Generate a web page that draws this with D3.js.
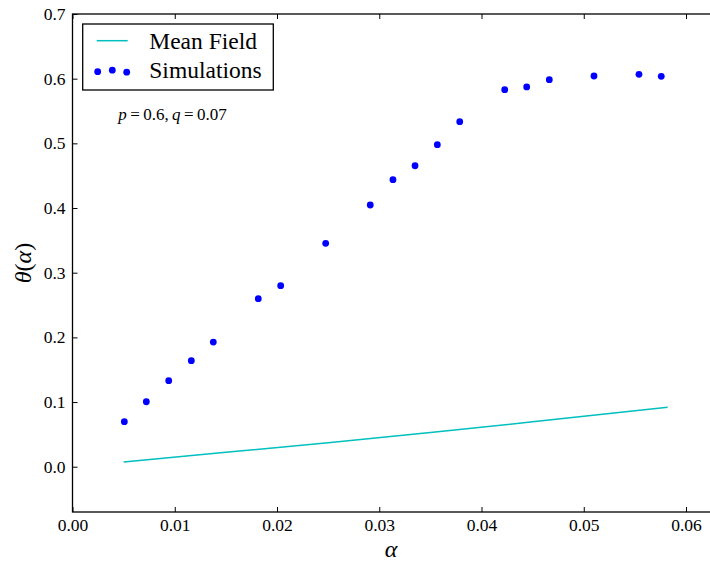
<!DOCTYPE html>
<html>
<head>
<meta charset="utf-8">
<script src="https://cdn.jsdelivr.net/npm/d3@7"></script>
<style>
  body { margin: 0; background: #fff; }
  svg { display: block; }
  svg text { font-family: "Liberation Serif", "Times New Roman", "DejaVu Serif", serif !important; fill: #000; }
</style>
</head>
<body>
<svg id="chart"></svg>
<script>
// data
var simAlpha = [0.00507, 0.00722, 0.00941, 0.01162, 0.01377, 0.01817, 0.02036,
                0.02476, 0.02912, 0.03134, 0.03350, 0.03568, 0.03787, 0.04227,
                0.04442, 0.04663, 0.05100, 0.05540, 0.05758];
var simTheta = [0.0696, 0.1005, 0.1330, 0.1639, 0.1928, 0.2598, 0.2799,
                0.3454, 0.4047, 0.4438, 0.4654, 0.4979, 0.5335, 0.5830,
                0.5872, 0.5984, 0.6041, 0.6068, 0.6037];
var mfAlpha = [0.0050, 0.0150, 0.0250, 0.0350, 0.0450, 0.0582];
var mfTheta = [0.0073, 0.0222, 0.0372, 0.0528, 0.0695, 0.0918];
var xTicks = [0, 0.01, 0.02, 0.03, 0.04, 0.05, 0.06];
var yTicks = [0.0, 0.1, 0.2, 0.3, 0.4, 0.5, 0.6, 0.7];

var width = 710, height = 562;
var mLeft = 72.5, mTop = 14, mRight = 721.8, mBottom = 512;
var serif = '"Liberation Serif", "DejaVu Serif", serif';

var svg = d3.select('#chart')
    .attr('width', width)
    .attr('height', height)
    .attr('font-family', serif);

// the figure is cropped on the right, so the axes run past the picture edge
var x = d3.scaleLinear().domain([0, 0.0635]).range([mLeft, mRight]);
var y = d3.scaleLinear().domain([-0.07, 0.7]).range([mBottom, mTop]);

var tickLen = 5;

// ticks on all four sides, pointing inward (classic matplotlib)
svg.append('g')
    .attr('transform', 'translate(0,' + mBottom + ')')
    .call(d3.axisBottom(x).tickValues(xTicks).tickSize(-tickLen).tickPadding(7)
      .tickFormat(d3.format('.2f')))
    .attr('font-family', serif)
    .call(function (g) { g.select('.domain').remove(); })
    .call(function (g) { g.selectAll('text').style('font-size', '17.5px'); });

svg.append('g')
    .attr('transform', 'translate(0,' + mTop + ')')
    .call(d3.axisTop(x).tickValues(xTicks).tickSize(-tickLen).tickFormat(''))
    .call(function (g) { g.select('.domain').remove(); });

svg.append('g')
    .attr('transform', 'translate(' + mLeft + ',0)')
    .call(d3.axisLeft(y).tickValues(yTicks).tickSize(-tickLen).tickPadding(7)
      .tickFormat(d3.format('.1f')))
    .attr('font-family', serif)
    .call(function (g) { g.select('.domain').remove(); })
    .call(function (g) { g.selectAll('text').style('font-size', '17.5px'); });

svg.append('g')
    .attr('transform', 'translate(' + mRight + ',0)')
    .call(d3.axisRight(y).tickValues(yTicks).tickSize(-tickLen).tickFormat(''))
    .call(function (g) { g.select('.domain').remove(); });

svg.selectAll('.tick line').attr('stroke', '#000').attr('stroke-width', 1);

// frame
svg.append('rect')
    .attr('x', mLeft).attr('y', mTop)
    .attr('width', mRight - mLeft).attr('height', mBottom - mTop)
    .attr('fill', 'none').attr('stroke', '#000').attr('stroke-width', 1.3);

// mean field line
var line = d3.line()
    .x(function (d, i) { return x(mfAlpha[i]); })
    .y(function (d) { return y(d); });

svg.append('path')
    .datum(mfTheta)
    .attr('d', line)
    .attr('fill', 'none')
    .attr('stroke', '#00bfbf')
    .attr('stroke-width', 1.5);

// simulation points
svg.append('g').selectAll('circle')
    .data(simTheta)
    .enter().append('circle')
    .attr('cx', function (d, i) { return x(simAlpha[i]); })
    .attr('cy', function (d) { return y(d); })
    .attr('r', 3.4)
    .attr('fill', '#0000ff');

// legend
var lg = svg.append('g');
lg.append('rect')
    .attr('x', 82.7).attr('y', 24)
    .attr('width', 190.6).attr('height', 66)
    .attr('fill', '#fff').attr('stroke', '#000').attr('stroke-width', 1.3);
lg.append('line')
    .attr('x1', 96.7).attr('x2', 127.7).attr('y1', 40.7).attr('y2', 40.7)
    .attr('stroke', '#00bfbf').attr('stroke-width', 1.5);
lg.append('text').attr('x', 149.3).attr('y', 48.5)
    .style('font-size', '23.5px').text('Mean Field');
var legendDots = [[97.7, 71.7], [112.3, 70.2], [126.7, 72.2]];
lg.selectAll('circle')
    .data(legendDots)
    .enter().append('circle')
    .attr('cx', function (d) { return d[0]; })
    .attr('cy', function (d) { return d[1]; })
    .attr('r', 3.4)
    .attr('fill', '#0000ff');
lg.append('text').attr('x', 149.3).attr('y', 78)
    .style('font-size', '23.5px').text('Simulations');

// annotation
var ann = svg.append('text').attr('x', 118.3).attr('y', 120)
    .style('font-size', '17px').attr('xml:space', 'preserve');
ann.append('tspan').style('font-style', 'italic').text('p');
ann.append('tspan').text('\u2009=\u20090.6,\u2009');
ann.append('tspan').style('font-style', 'italic').text('q');
ann.append('tspan').text('\u2009=\u20090.07');

// axis labels
svg.append('text')
    .attr('x', 391).attr('y', 557)
    .attr('text-anchor', 'middle')
    .style('font-size', '24px').style('font-style', 'italic')
    .text('α');

var yl = svg.append('text')
    .attr('transform', 'translate(31,' + (mTop + mBottom) / 2 + ') rotate(-90)')
    .attr('text-anchor', 'middle')
    .style('font-size', '24px');
yl.append('tspan').style('font-style', 'italic').text('θ');
yl.append('tspan').text('(');
yl.append('tspan').style('font-style', 'italic').text('α');
yl.append('tspan').text(')');
</script>
</body>
</html>
